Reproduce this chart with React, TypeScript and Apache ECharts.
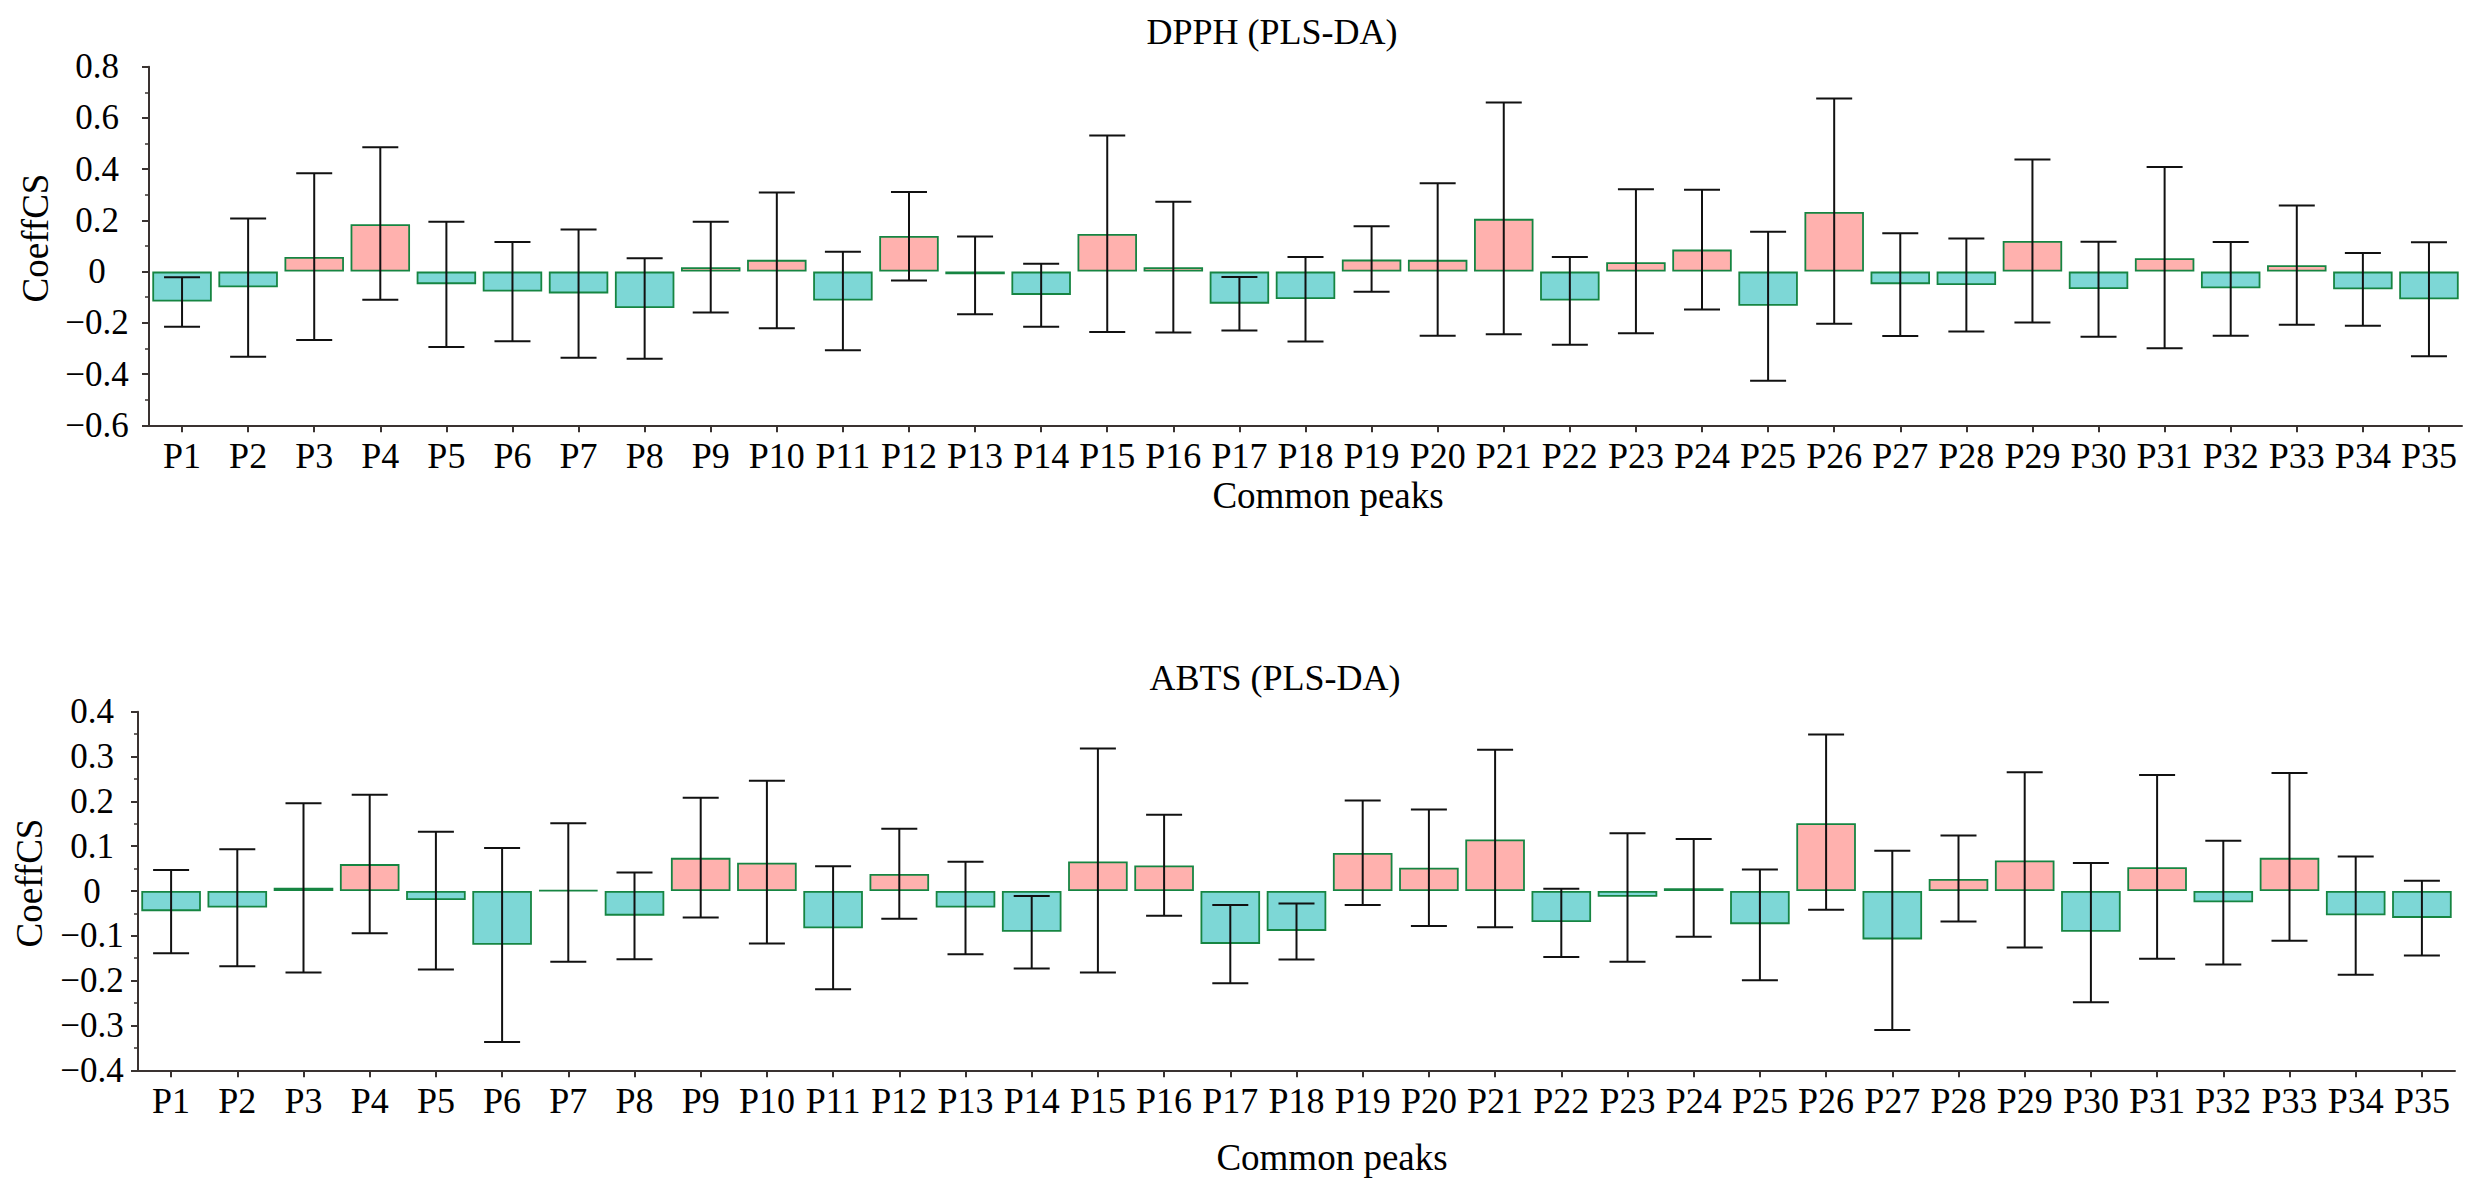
import React, { useEffect, useRef } from "react";
import * as echarts from "echarts";

const peaks = Array.from({ length: 35 }, (_, i) => "P" + (i + 1));

const dpphCoef = [
  -0.117, -0.061, 0.057, 0.185, -0.049, -0.078, -0.085, -0.142, 0.017, 0.046,
  -0.113, 0.139, -0.01, -0.091, 0.147, 0.017, -0.125, -0.107, 0.047, 0.046,
  0.206, -0.113, 0.037, 0.086, -0.133, 0.233, -0.049, -0.052, 0.12, -0.068,
  0.052, -0.065, 0.025, -0.069, -0.108,
];
const dpphLow = [
  -0.215, -0.332, -0.267, -0.11, -0.294, -0.272, -0.336, -0.34, -0.16, -0.221,
  -0.307, -0.035, -0.166, -0.215, -0.236, -0.238, -0.23, -0.273, -0.079, -0.25,
  -0.245, -0.286, -0.241, -0.148, -0.426, -0.204, -0.251, -0.234, -0.199, -0.254,
  -0.299, -0.25, -0.207, -0.211, -0.33,
];
const dpphHigh = [
  -0.022, 0.207, 0.384, 0.486, 0.195, 0.116, 0.164, 0.052, 0.195, 0.309,
  0.078, 0.311, 0.137, 0.031, 0.531, 0.273, -0.021, 0.057, 0.177, 0.345,
  0.66, 0.057, 0.322, 0.32, 0.156, 0.676, 0.15, 0.129, 0.438, 0.117,
  0.408, 0.116, 0.258, 0.073, 0.115,
];

const abtsCoef = [
  -0.045, -0.037, 0.007, 0.06, -0.02, -0.12, 0.002, -0.055, 0.074, 0.063,
  -0.083, 0.038, -0.037, -0.091, 0.066, 0.057, -0.118, -0.089, 0.085, 0.052,
  0.115, -0.069, -0.013, 0.006, -0.074, 0.151, -0.108, 0.027, 0.068, -0.091,
  0.053, -0.025, 0.074, -0.054, -0.06,
];
const abtsLow = [
  -0.139, -0.168, -0.182, -0.094, -0.175, -0.337, -0.158, -0.152, -0.059, -0.117,
  -0.219, -0.062, -0.141, -0.173, -0.182, -0.055, -0.206, -0.153, -0.031, -0.078,
  -0.081, -0.147, -0.158, -0.102, -0.199, -0.042, -0.31, -0.068, -0.126, -0.248,
  -0.151, -0.164, -0.111, -0.187, -0.144,
];
const abtsHigh = [
  0.047, 0.093, 0.196, 0.215, 0.132, 0.096, 0.151, 0.041, 0.208, 0.246,
  0.055, 0.139, 0.065, -0.011, 0.318, 0.17, -0.031, -0.028, 0.202, 0.182,
  0.315, 0.005, 0.129, 0.116, 0.048, 0.349, 0.09, 0.124, 0.265, 0.0625,
  0.259, 0.112, 0.263, 0.077, 0.023,
];

const titles = ["DPPH (PLS-DA)", "ABTS (PLS-DA)"];
const xName = "Common peaks";
const yName = "CoeffCS";

const FONT = "'Liberation Serif', 'Times New Roman', serif";
const AXIS_COLOR = "#3a3331";
const PINK = "#FFB1AE";
const TEAL = "#7DD7D6";

function fmt(v: number) {
  const a = parseFloat(Math.abs(v).toFixed(1));
  if (a === 0) return "0";
  return (v < 0 ? "\u2212" : "") + String(a);
}

function errorSeries(axisIdx: number, low: number[], high: number[]) {
  return {
    type: "custom",
    xAxisIndex: axisIdx,
    yAxisIndex: axisIdx,
    z: 5,
    encode: { x: 0, y: [1, 2] },
    data: low.map((l, i) => [i, l, high[i]]),
    renderItem: (params: any, api: any) => {
      const i = api.value(0);
      const p1 = api.coord([i, api.value(1)]);
      const p2 = api.coord([i, api.value(2)]);
      const hw = 18;
      const style = { stroke: "#111", lineWidth: 2 };
      return {
        type: "group",
        children: [
          { type: "line", shape: { x1: p1[0], y1: p1[1], x2: p2[0], y2: p2[1] }, style },
          { type: "line", shape: { x1: p1[0] - hw, y1: p1[1], x2: p1[0] + hw, y2: p1[1] }, style },
          { type: "line", shape: { x1: p2[0] - hw, y1: p2[1], x2: p2[0] + hw, y2: p2[1] }, style },
        ],
      };
    },
  };
}

function barSeries(axisIdx: number, vals: number[]) {
  return {
    type: "bar",
    xAxisIndex: axisIdx,
    yAxisIndex: axisIdx,
    barCategoryGap: "10%",
    z: 2,
    data: vals.map((v) => ({
      value: v,
      itemStyle: {
        color: v >= 0 ? PINK : TEAL,
        borderColor: "#168542",
        borderWidth: 1.8,
      },
    })),
  };
}

function xAxis(gridIndex: number) {
  return {
    type: "category",
    gridIndex,
    data: peaks,
    boundaryGap: true,
    axisLine: { show: true, onZero: false, lineStyle: { color: AXIS_COLOR, width: 2 } },
    axisTick: { show: true, alignWithLabel: true, length: 7, lineStyle: { color: AXIS_COLOR, width: 2 } },
    axisLabel: { color: "#000", fontFamily: FONT, fontSize: 36, margin: 13, interval: 0 },
    splitLine: { show: false },
  };
}

function yAxis(gridIndex: number, min: number, max: number, interval: number, margin: number) {
  return {
    type: "value",
    gridIndex,
    min,
    max,
    interval,
    axisLine: { show: true, lineStyle: { color: AXIS_COLOR, width: 2 } },
    axisTick: { show: true, length: 7, lineStyle: { color: AXIS_COLOR, width: 2 } },
    minorTick: { show: true, splitNumber: 2, length: 4, lineStyle: { color: AXIS_COLOR, width: 1.5 } },
    splitLine: { show: false },
    axisLabel: {
      color: "#000",
      fontFamily: FONT,
      fontSize: 35,
      align: "center",
      verticalAlign: "middle",
      margin,
      padding: [0, 0, 20, 0],
      formatter: fmt,
    },
  };
}

function txt(x: number, y: number, text: string, size: number, rotation = 0) {
  return {
    type: "text",
    x,
    y,
    rotation,
    style: {
      text,
      fill: "#000",
      font: `${size}px ${FONT}`,
      align: "center",
      verticalAlign: "middle",
    },
  };
}

export default function App() {
  const ref = useRef<HTMLDivElement>(null);
  useEffect(() => {
    if (!ref.current) return;
    const chart = echarts.init(ref.current, undefined, { renderer: "svg" });
    chart.setOption({
      animation: false,
      backgroundColor: "#fff",
      grid: [
        { left: 149, top: 66.7, width: 2313, height: 358.6 },
        { left: 138, top: 711.7, width: 2317, height: 358.6 },
      ],
      xAxis: [xAxis(0), xAxis(1)],
      yAxis: [yAxis(0, -0.6, 0.8, 0.2, 52), yAxis(1, -0.4, 0.4, 0.1, 46)],
      series: [
        barSeries(0, dpphCoef),
        errorSeries(0, dpphLow, dpphHigh),
        barSeries(1, abtsCoef),
        errorSeries(1, abtsLow, abtsHigh),
      ],
      graphic: [
        txt(1272, 32, titles[0], 36),
        txt(1275, 678, titles[1], 36),
        txt(1328, 495, xName, 37),
        txt(1332, 1157, xName, 37),
        txt(35, 238, yName, 37, Math.PI / 2),
        txt(29, 883, yName, 37, Math.PI / 2),
      ],
    });
    return () => chart.dispose();
  }, []);
  return (
    <div
      ref={ref}
      style={{ position: "fixed", left: 0, top: 0, width: 2481, height: 1202, background: "#fff" }}
    />
  );
}
